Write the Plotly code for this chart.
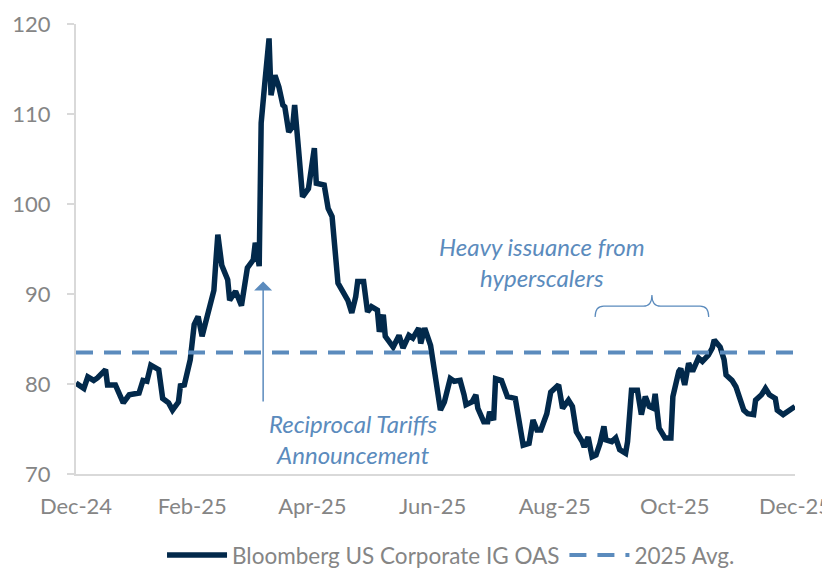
import plotly.graph_objects as go
import pandas as pd

# days after 2024-12-31
day_offsets = [0, 4, 6, 9, 11, 15, 16, 20, 24, 27, 32, 34, 36, 38, 42, 44, 47, 49, 52, 53,
               55, 58, 60, 62, 64, 66, 70, 71, 72, 74, 77, 78, 81, 84, 87, 90, 91, 93, 94, 96,
               98, 99, 101, 103, 105, 106, 108, 110, 111, 113, 115, 118, 120, 121, 122, 126, 128, 130, 133, 136,
               138, 140, 142, 143, 146, 148, 150, 153, 154, 156, 157, 161, 164, 166, 169, 171, 174, 175, 177, 180,
               181, 183, 185, 187, 190, 192, 195, 197, 198, 201, 203, 204, 207, 209, 210, 212, 213, 216, 219, 223,
               225, 226, 227, 230, 232, 234, 236, 239, 241, 243, 245, 247, 250, 252, 254, 257, 258, 260, 262, 264,
               266, 268, 269, 272, 274, 276, 279, 280, 282, 285, 287, 289, 291, 293, 294, 296, 299, 302, 303, 306,
               307, 309, 311, 313, 316, 318, 321, 323, 324, 327, 329, 330, 333, 335, 337, 339, 341, 344, 345, 348,
               350, 352, 355, 356, 359, 362, 365]
oas_values = [80.1, 79.5, 80.8, 80.4, 80.7, 81.6, 79.9, 79.9, 77.9, 78.8, 79.0, 80.4, 80.3, 82.1, 81.6, 78.4, 77.9, 77.1, 78.0, 79.8,
              79.9, 82.7, 86.6, 87.5, 85.3, 87.1, 90.4, 93.6, 96.6, 93.2, 91.6, 89.3, 90.3, 88.7, 92.9, 93.8, 95.7, 93.1, 109.0, 113.8,
              118.4, 112.1, 114.3, 113.0, 111.0, 110.8, 108.0, 108.6, 111.0, 106.0, 100.8, 101.7, 104.9, 106.2, 102.3, 102.1, 99.5, 98.6, 91.2, 90.1,
              89.3, 87.9, 89.7, 91.4, 91.4, 88.0, 88.6, 88.2, 85.8, 87.7, 85.3, 84.1, 85.4, 84.0, 85.4, 85.1, 86.2, 84.5, 86.2, 84.3,
              83.0, 80.4, 77.1, 78.0, 80.6, 80.3, 80.4, 78.8, 77.7, 78.0, 78.8, 77.3, 75.8, 75.8, 76.9, 76.0, 80.6, 80.4, 78.6, 78.4,
              76.0, 75.1, 73.2, 73.4, 76.0, 74.9, 74.9, 76.7, 79.1, 79.5, 79.9, 77.3, 78.2, 77.5, 74.7, 73.6, 73.0, 74.1, 71.9, 72.1,
              73.4, 75.3, 73.8, 73.6, 74.0, 72.7, 72.3, 73.6, 79.3, 79.3, 76.6, 78.6, 77.5, 77.3, 78.9, 75.1, 74.0, 74.0, 78.6, 81.4,
              81.7, 79.9, 82.3, 81.4, 82.9, 82.5, 83.2, 84.0, 84.9, 84.1, 82.7, 81.0, 80.4, 79.7, 78.6, 77.1, 76.7, 76.6, 78.2, 78.8,
              79.5, 78.8, 78.4, 77.1, 76.6, 77.1, 77.5]
avg_2025 = 83.5

tick_dates = ["2024-12-31", "2025-02-28", "2025-04-30", "2025-06-30", "2025-08-31", "2025-10-31", "2025-12-31"]
tick_labels = ["Dec-24", "Feb-25", "Apr-25", "Jun-25", "Aug-25", "Oct-25", "Dec-25"]

dates = pd.Timestamp("2024-12-31") + pd.to_timedelta(day_offsets, unit="D")

NAVY = "#02294b"
STEEL = "#5b8bbd"
GREY = "#858585"
AXIS = "#d9d9d9"
FONT = "Lato, 'Open Sans', sans-serif"

fig = go.Figure()
fig.add_trace(go.Scatter(
    x=dates, y=oas_values, mode="lines",
    name="Bloomberg US Corporate IG OAS",
    line=dict(color=NAVY, width=5.5)
))
fig.add_trace(go.Scatter(
    x=[tick_dates[0], tick_dates[-1]], y=[avg_2025, avg_2025], mode="lines",
    name="2025 Avg.",
    line=dict(color=STEEL, width=4, dash="17px,11px")
))

# arrow for the tariff announcement
fig.add_annotation(
    x="2025-04-05", y=91.4, ax="2025-04-05", ay=77.9,
    xref="x", yref="y", axref="x", ayref="y",
    text="", showarrow=True, arrowhead=1, arrowsize=2, arrowwidth=1.5, arrowcolor=STEEL
)
fig.add_annotation(
    x=0.2656, y=73.9, xref="paper", yref="y",
    text="Reciprocal Tariffs<br>Announcement", showarrow=False,
    font=dict(family=FONT, size=24, color=STEEL, style="italic")
)
fig.add_annotation(
    x=0.794, y=93.6, xref="paper", yref="y",
    text="Heavy issuance from<br>hyperscalers", showarrow=False,
    font=dict(family=FONT, size=24, color=STEEL, style="italic")
)

# curly bracket over the issuance period
x0, x1, xm = 0.722, 0.880, 0.801
yh, ye, yt = 0.373, 0.349, 0.398
c = 0.012
fig.add_shape(
    type="path", xref="paper", yref="paper",
    path=(f"M {x0},{ye} Q {x0},{yh} {x0 + c},{yh} L {xm - c},{yh} Q {xm},{yh} {xm},{yt} "
          f"Q {xm},{yh} {xm + c},{yh} L {x1 - c},{yh} Q {x1},{yh} {x1},{ye}"),
    line=dict(color=STEEL, width=1.2)
)

# figure is a bit larger than the window so nothing gets pushed by automargin
fig.update_layout(
    width=860, height=600,
    margin=dict(l=68, r=73, t=16, b=134),
    paper_bgcolor="white", plot_bgcolor="white",
    font=dict(family=FONT, size=22, color=GREY),
    showlegend=True,
    legend=dict(orientation="h", x=0.5216, xanchor="center", y=-0.181, yanchor="middle",
                itemwidth=60, font=dict(size=22.5, color=GREY))
)
fig.update_xaxes(
    range=[tick_dates[0], tick_dates[-1]],
    tickvals=tick_dates, ticktext=tick_labels,
    showgrid=False, showline=True, linecolor=AXIS, linewidth=2,
    ticks="", ticklabelstandoff=12, automargin=False
)
fig.update_yaxes(
    range=[70, 120], dtick=10,
    showgrid=False, showline=True, linecolor=AXIS, linewidth=2,
    ticks="outside", ticklen=7, tickcolor=AXIS, tickwidth=2, zeroline=False,
    ticklabelstandoff=12, automargin=False
)

fig.write_html("out.html")
